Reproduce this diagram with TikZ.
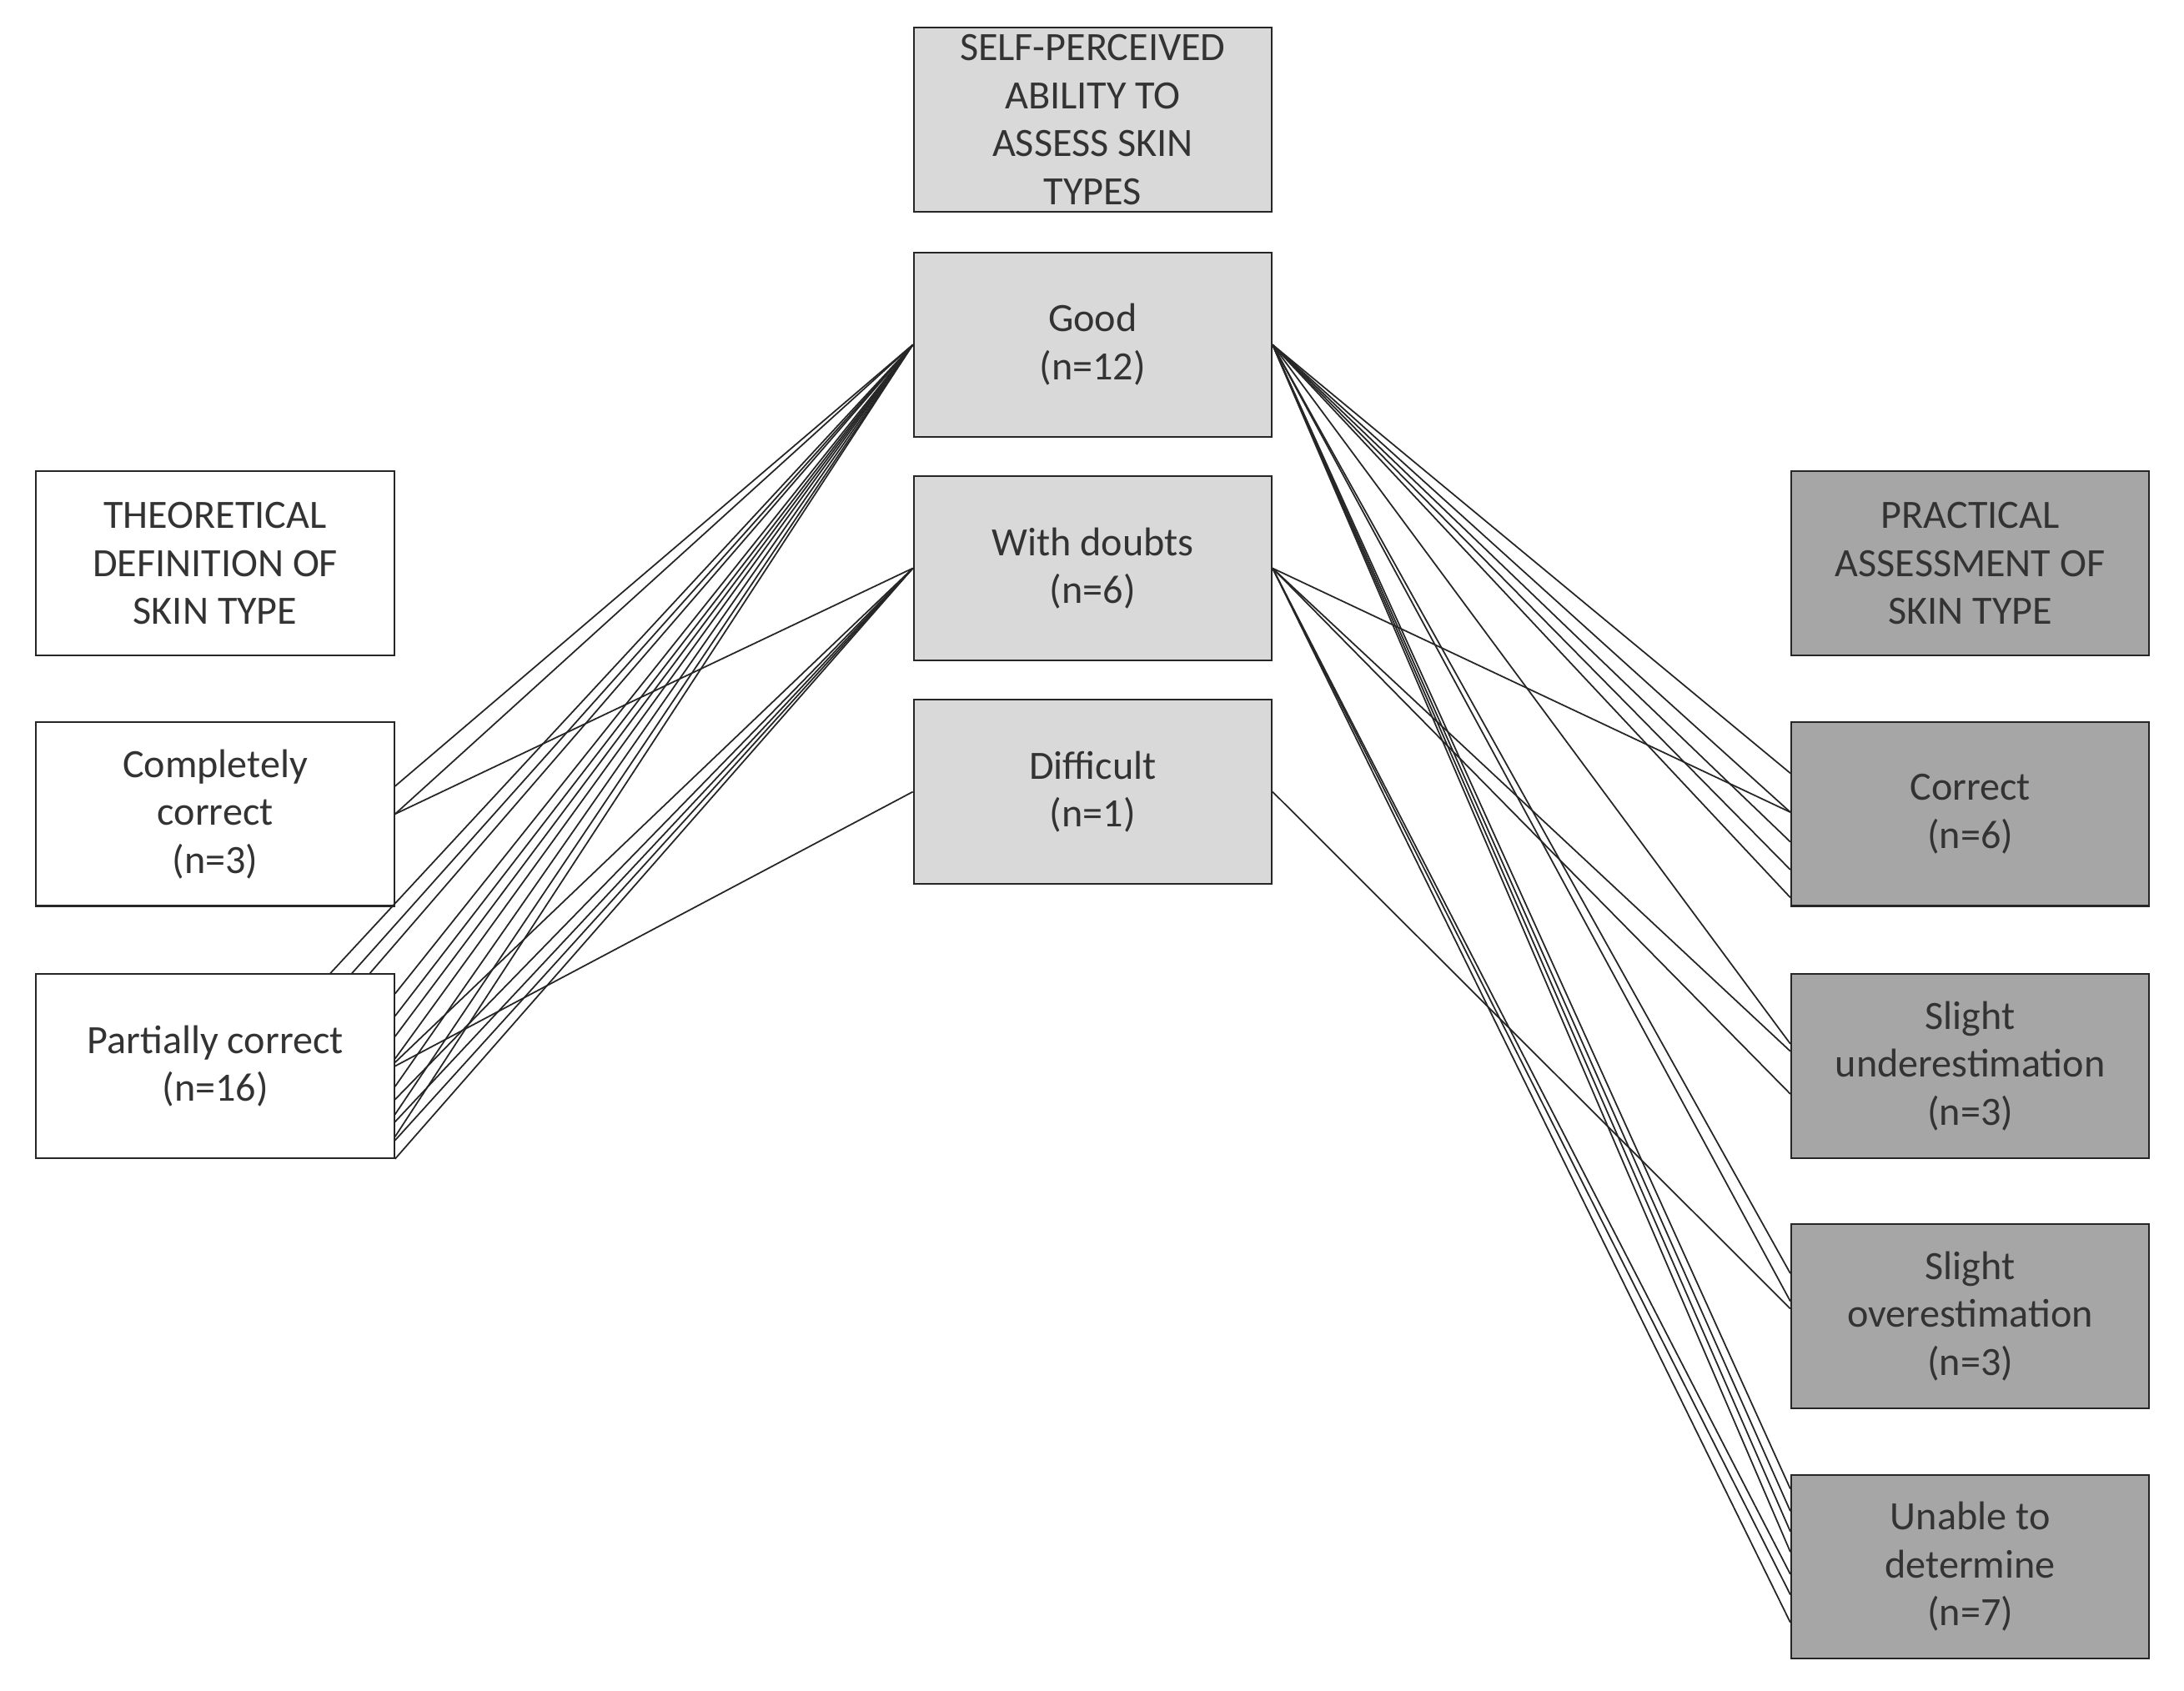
\documentclass[tikz,border=0pt]{standalone}
\usepackage{fontspec}
\setmainfont{Carlito}
\usetikzlibrary{calc}
\definecolor{txt}{HTML}{333333}
\definecolor{lg}{HTML}{D9D9D9}
\definecolor{dg}{HTML}{A6A6A6}
\begin{document}
\begin{tikzpicture}[x=0.025cm,y=-0.025cm,
  box/.style={draw=black!85,line width=0.9pt,minimum width=257*0.025cm,minimum height=132*0.025cm,
    align=center,text=txt,inner sep=0pt,font=\fontsize{20.5pt}{24.5pt}\selectfont},
  w/.style={box,fill=white}, l/.style={box,fill=lg}, d/.style={box,fill=dg},
  ln/.style={draw=black!85,line width=0.75pt}]
\useasboundingbox (0,0) rectangle (1568,1214);
\node[l] (sp) at (784.5,86) {SELF-PERCEIVED\\ABILITY TO\\ASSESS SKIN\\TYPES};
\node[l] (good) at (784.5,247.5) {Good\\(n=12)};
\node[l] (doubt) at (784.5,408) {With doubts\\(n=6)};
\node[l] (diff) at (784.5,568.5) {Difficult\\(n=1)};
\node[w] (theo) at (154.5,404.5) {THEORETICAL\\DEFINITION OF\\SKIN TYPE};
\node[w] (cc) at (154.5,584.5) {Completely\\correct\\(n=3)};
\node[w] (pc) at (154.5,765.5) {Partially correct\\(n=16)};
\node[d] (prac) at (1414.5,404.5) {PRACTICAL\\ASSESSMENT OF\\SKIN TYPE};
\node[d] (cor) at (1414.5,584.5) {Correct\\(n=6)};
\node[d] (und) at (1414.5,765.5) {Slight\\underestimation\\(n=3)};
\node[d] (ov) at (1414.5,945) {Slight\\overestimation\\(n=3)};
\node[d] (un) at (1414.5,1125) {Unable to\\determine\\(n=7)};
% left side
\foreach \f in {.35,.50} \draw[ln] (good.west) -- ($(cc.north east)!\f!(cc.south east)$);
\draw[ln] (doubt.west) -- ($(cc.north east)!.50!(cc.south east)$);
\foreach \f in {.82,.88,.93} \draw[ln] (good.west) -- ($(pc.north west)!\f!(pc.north east)$);
\foreach \f in {.11,.23,.34,.46,.61,.76,.88} \draw[ln] (good.west) -- ($(pc.north east)!\f!(pc.south east)$);
\foreach \f in {.48,.68,.80,.90,1.0} \draw[ln] (doubt.west) -- ($(pc.north east)!\f!(pc.south east)$);
\draw[ln] (diff.west) -- ($(pc.north east)!.50!(pc.south east)$);
% right side
\foreach \f in {.28,.49,.65,.80,.95} \draw[ln] (good.east) -- ($(cor.north west)!\f!(cor.south west)$);
\draw[ln] (doubt.east) -- ($(cor.north west)!.49!(cor.south west)$);
\draw[ln] (good.east) -- ($(und.north west)!.38!(und.south west)$);
\foreach \f in {.42,.65} \draw[ln] (doubt.east) -- ($(und.north west)!\f!(und.south west)$);
\foreach \f in {.27,.42} \draw[ln] (good.east) -- ($(ov.north west)!\f!(ov.south west)$);
\draw[ln] (diff.east) -- ($(ov.north west)!.46!(ov.south west)$);
\foreach \f in {.08,.20,.31,.42} \draw[ln] (good.east) -- ($(un.north west)!\f!(un.south west)$);
\foreach \f in {.54,.65,.80} \draw[ln] (doubt.east) -- ($(un.north west)!\f!(un.south west)$);
\end{tikzpicture}
\end{document}
